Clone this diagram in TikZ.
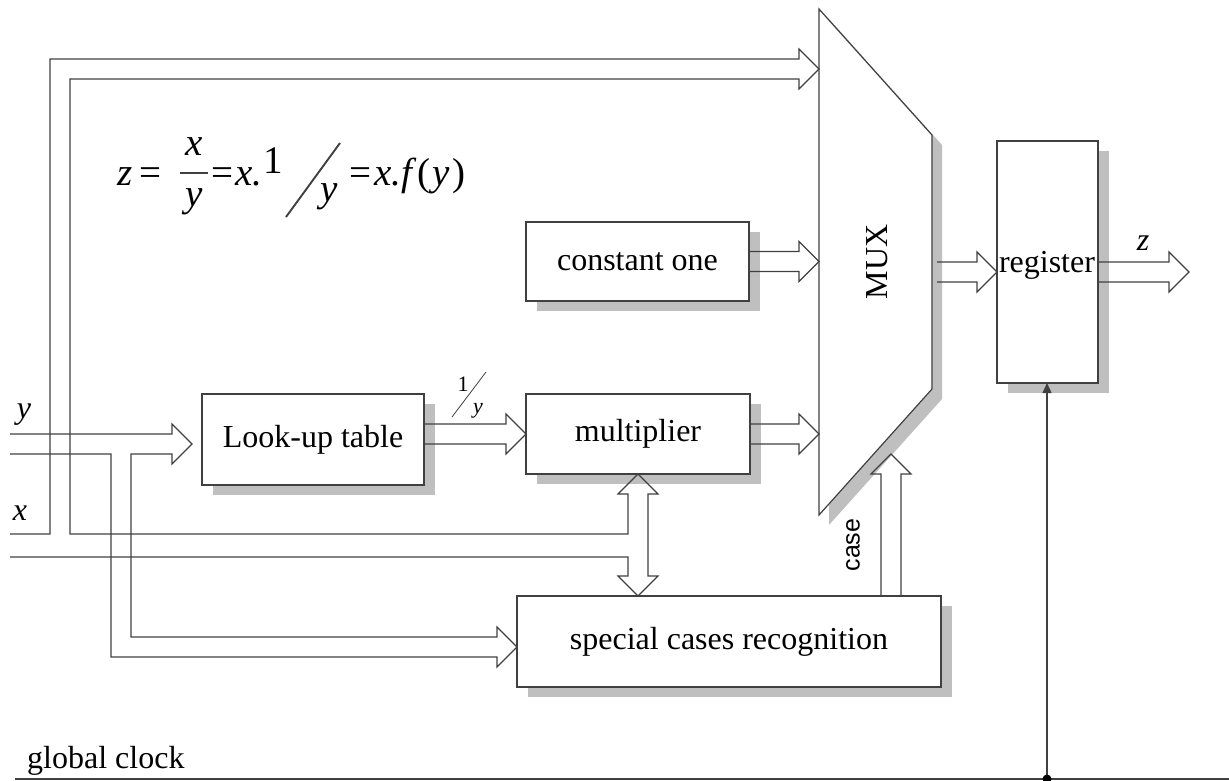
\documentclass[tikz,border=0pt]{standalone}
\usepackage{fontspec}
\setmainfont{Liberation Serif}
\newfontfamily\sansf{Liberation Sans}
\usetikzlibrary{calc,shadows,arrows.meta}
\newcommand\labf{\fontsize{32}{38}\selectfont}
\newcommand\eqf{\fontsize{39}{42}\selectfont}
\newcommand\smf{\fontsize{22}{24}\selectfont}
\newcommand\hbus[2]{\draw[bus] let \p1=(#1), \p2=(#2) in (\x1,\y2+10pt) -- (\x2-20pt,\y2+10pt) -- (\x2-20pt,\y2+20pt) -- (\x2,\y2) -- (\x2-20pt,\y2-20pt) -- (\x2-20pt,\y2-10pt) -- (\x1,\y2-10pt);}
\newcommand\vbusup[2]{\draw[bus] let \p1=(#1), \p2=(#2) in (\x2-10pt,\y1) -- (\x2-10pt,\y2-20pt) -- (\x2-20pt,\y2-20pt) -- (\x2,\y2) -- (\x2+20pt,\y2-20pt) -- (\x2+10pt,\y2-20pt) -- (\x2+10pt,\y1);}
\tikzset{
 ln/.style={draw=black!75, line width=1.2pt},
 bus/.style={ln, line join=miter},
 box/.style={ln, fill=white, inner sep=0pt, outer sep=0pt, anchor=north west, font=\labf,
   drop shadow={shadow xshift=11pt, shadow yshift=-10pt, fill=black!25, opacity=1}},
 lab/.style={font=\labf, inner sep=0pt},
 eq/.style={font=\eqf, inner sep=0pt},
 sm/.style={font=\smf, inner sep=0pt},
}
\begin{document}
\begin{tikzpicture}[x=1pt,y=-1pt]
\useasboundingbox (0,0) rectangle (1229,780);
% boxes
\node[box, minimum width=222pt, minimum height=91pt] (lut) at (202,394) {Look-up table};
\node[box, minimum width=224pt, minimum height=80pt] (mult) at (526,394) {multiplier};
\node[box, minimum width=223pt, minimum height=79pt] (const) at (526,222) {constant one};
\node[box, minimum width=424pt, minimum height=91pt] (spec) at (517,596) {special cases recognition};
\node[box, minimum width=101pt, minimum height=242pt] (reg) at (997,141) {};
\node[lab] (regtxt) at (1047,265) {register};
% MUX
\coordinate (m1) at (819,9);
\coordinate (m2) at (932,135);
\coordinate (m3) at (932,389);
\coordinate (m4) at (819,515);
\fill[black!25] ($(m1)+(10,10)$) -- ($(m2)+(10,10)$) -- ($(m3)+(10,10)$) -- ($(m4)+(10,10)$) -- cycle;
\draw[ln, fill=white, line join=miter] (m1) -- (m2) -- (m3) -- (m4) -- cycle;
\node[lab, rotate=90] (mux) at (877,262) {MUX};
% x input bus, top bus to MUX, double arrow multiplier <-> special cases
\coordinate (dtop) at (638,474);
\coordinate (dbot) at (638,596);
\draw[bus] (10,534) -- (50,534) -- (50,59) -- (799,59) -- (799,49) -- (m1 |- 0,69) -- (799,89) -- (799,79)
  -- (70,79) -- (70,534) -- (628,534) -- (628,494) -- (618,494) -- (dtop) -- (658,494) -- (648,494)
  -- (648,576) -- (658,576) -- (dbot) -- (618,576) -- (628,576) -- (628,557) -- (10,557);
% y input bus to look-up table and special cases
\coordinate (ytip) at (192,444);
\coordinate (stip) at (517,647);
\draw[bus] (10,434) -- (172,434) -- (172,424) -- (ytip) -- (172,464) -- (172,454) -- (131,454) -- (131,637)
  -- (497,637) -- (497,627) -- (stip) -- (497,667) -- (497,657) -- (111,657) -- (111,454) -- (10,454);
% other buses
\hbus{lut.east}{mult.west}
\hbus{const.east}{m1 |- const.east}
\hbus{mult.east}{m1 |- mult.east}
\coordinate (muxout) at (937,272);
\coordinate (regin) at (997,272);
\coordinate (zout) at (1189,272);
\hbus{muxout}{regin}
\hbus{reg.east}{zout}
\coordinate (casetip) at (891,454);
\vbusup{spec.north}{casetip}
% clock
\coordinate (clk) at (1047,779);
\draw[ln] (15,779) -- (1229,779);
\draw[ln, -{Triangle[width=9pt,length=10pt]}] (clk) -- (clk |- reg.south);
\fill[black] (clk) circle (4.5pt);
% labels
\node[lab, anchor=base] (ylab) at (24,418) {\itshape y};
\node[lab, anchor=base] (xlab) at (20,520) {\itshape x};
\node[lab, anchor=base] (zlab) at (1143,250) {\itshape z};
\node[lab, anchor=base west] (gclk) at (27,768) {global clock};
\node[font=\sansf\fontsize{25}{28}\selectfont, inner sep=0pt, rotate=90] (case) at (853,545) {case};
\node[sm, anchor=base] (inv1) at (463,391) {1};
\draw[ln, line width=0.8pt] (452,417) -- (486,372);
\node[sm, anchor=base] (invy) at (478,413) {\itshape y};
% equation
\node[eq, anchor=base west] (e1) at (117,185) {\itshape z\upshape\kern7pt=};
\node[eq, anchor=base] (e2) at (194,155) {\itshape x};
\draw[ln, line width=1.7pt] (180,173) -- (208,173);
\node[eq, anchor=base] (e3) at (194,206) {\itshape y};
\node[eq, anchor=base west] (e4) at (211,185) {=\kern2pt\itshape x.};
\node[eq, anchor=base] (e5) at (273,173) {1};
\draw[ln, line width=1.9pt] (286,217) -- (340,143);
\node[eq, anchor=base] (e6) at (329,201) {\itshape y};
\node[eq, anchor=base west] (e7) at (349,185) {=\kern3pt\itshape x.f\kern5pt\upshape(\kern2pt\itshape y\kern3pt\upshape)};
\end{tikzpicture}
\end{document}
